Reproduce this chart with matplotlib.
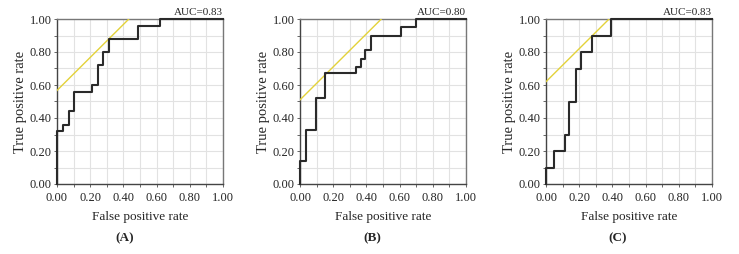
import matplotlib
matplotlib.use("Agg")
import matplotlib.pyplot as plt
from matplotlib.ticker import MultipleLocator

# ROC step points (vertical rise happens at each fpr)
fpr_a = [0, 0.036, 0.07, 0.104, 0.21, 0.248, 0.28, 0.314, 0.486, 0.622, 1.0]
tpr_a = [0, 0.32, 0.36, 0.44, 0.56, 0.60, 0.72, 0.80, 0.88, 0.96, 1.0]

fpr_b = [0, 0.038, 0.095, 0.153, 0.338, 0.366, 0.394, 0.43, 0.61, 0.70, 1.0]
tpr_b = [0, 0.14, 0.33, 0.52, 0.67, 0.71, 0.76, 0.81, 0.90, 0.95, 1.0]

fpr_c = [0, 0.047, 0.117, 0.14, 0.182, 0.208, 0.277, 0.39, 1.0]
tpr_c = [0, 0.10, 0.20, 0.30, 0.50, 0.70, 0.80, 0.90, 1.0]

# tangent line (slope 1) through the best cutoff
intercepts = [0.567, 0.51, 0.62]
aucs = ["AUC=0.83", "AUC=0.80", "AUC=0.83"]
panel_labels = ["A", "B", "C"]

plt.rcParams["font.family"] = ["Liberation Serif", "DejaVu Serif"]
plt.rcParams["text.color"] = "#262626"
plt.rcParams["xtick.labelcolor"] = "#262626"
plt.rcParams["ytick.labelcolor"] = "#262626"
plt.rcParams["axes.labelcolor"] = "#262626"

fig = plt.figure(figsize=(7.39, 2.54), dpi=100)

lefts = [57 / 739, 300 / 739, 546 / 739]
width = 166 / 739
bottom = 1 - 184 / 254
height = 165 / 254
label_x = [125, 372, 618]

curves = [(fpr_a, tpr_a), (fpr_b, tpr_b), (fpr_c, tpr_c)]

for i, (fpr, tpr) in enumerate(curves):
    ax = fig.add_axes([lefts[i], bottom, width, height])
    ax.set_xlim(0, 1)
    ax.set_ylim(0, 1)

    ax.xaxis.set_major_locator(MultipleLocator(0.2))
    ax.yaxis.set_major_locator(MultipleLocator(0.2))
    ax.xaxis.set_minor_locator(MultipleLocator(0.1))
    ax.yaxis.set_minor_locator(MultipleLocator(0.1))
    ax.xaxis.set_major_formatter(lambda v, p: f"{v:.2f}")
    ax.yaxis.set_major_formatter(lambda v, p: f"{v:.2f}")
    ax.grid(which="both", color="#e2e2e2", lw=0.8)
    ax.set_axisbelow(True)
    ax.tick_params(which="both", direction="out", length=2.5, width=0.7,
                   color="#666666", labelsize=9, pad=1.5)
    ax.tick_params(axis="x", pad=3)

    for s in ax.spines.values():
        s.set_color("#777777")
        s.set_linewidth(1.0)
    ax.spines["left"].set_color("#444444")
    ax.spines["bottom"].set_color("#444444")

    b = intercepts[i]
    ax.plot([0, 1 - b], [b, 1], color="#e3d23a", lw=1.0, zorder=3)
    ax.step(fpr, tpr, where="pre", color="#2a2a2a", lw=1.5, zorder=4,
            clip_on=False)

    ax.text(1.0, 1.015, aucs[i], transform=ax.transAxes, ha="right",
            va="bottom", fontsize=8)
    ax.set_xlabel("False positive rate", fontsize=9.5, labelpad=5)
    ax.set_ylabel("True positive rate", fontsize=10.5, labelpad=2)

    fig.text(label_x[i] / 739, 1 - 238 / 254, "(" + panel_labels[i] + ")",
             ha="center", va="center", fontsize=9.5, fontweight="bold")

fig.savefig("out.png", dpi=100)
